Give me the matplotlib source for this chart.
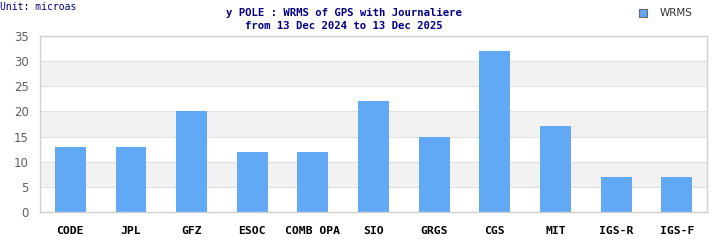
import matplotlib
matplotlib.use("Agg")
import matplotlib.pyplot as plt
from matplotlib.patches import Patch

centers = ["CODE", "JPL", "GFZ", "ESOC", "COMB OPA", "SIO", "GRGS", "CGS", "MIT", "IGS-R", "IGS-F"]
wrms = [13, 13, 20, 12, 12, 22, 15, 32, 17, 7, 7]
y_ticks = [0, 5, 10, 15, 20, 25, 30, 35]

BAR_COLOR = "#61a8f5"
TITLE_COLOR = "#000080"

fig = plt.figure(figsize=(7.15, 2.4), dpi=100)
ax = fig.add_axes([0.056, 0.117, 0.933, 0.733])

# alternating grey bands
for lo in range(5, 35, 10):
    ax.axhspan(lo, lo + 5, color="#f2f2f2", zorder=0, lw=0)
for t in y_ticks:
    ax.axhline(t, color="#e0e0e0", lw=0.8, zorder=0.5)

x = range(len(centers))
ax.bar(x, wrms, width=0.51, color=BAR_COLOR, zorder=2)

ax.set_xlim(-0.5, len(centers) - 0.5)
ax.set_ylim(0, 35)
ax.set_yticks(y_ticks)
ax.set_xticks(list(x))
ax.set_xticklabels(centers, family="DejaVu Sans Mono", fontweight="bold", fontsize=8.2)
ax.tick_params(axis="x", length=0, pad=10)
ax.tick_params(axis="y", length=0, pad=8, labelsize=8.5, labelcolor="#606060")
for s in ax.spines.values():
    s.set_color("#d0d0d0")
    s.set_linewidth(1)

fig.text(0.481, 0.945, "y POLE : WRMS of GPS with Journaliere", ha="center", va="center",
         family="DejaVu Sans Mono", fontweight="bold", fontsize=7.7, color=TITLE_COLOR)
fig.text(0.481, 0.89, "from 13 Dec 2024 to 13 Dec 2025", ha="center", va="center",
         family="DejaVu Sans Mono", fontweight="bold", fontsize=7.7, color=TITLE_COLOR)
fig.text(0.0, 0.97, "Unit: microas", ha="left", va="center",
         family="DejaVu Sans Mono", fontsize=7, color=TITLE_COLOR)

fig.legend(handles=[Patch(facecolor=BAR_COLOR, edgecolor="#666666", lw=0.8)], labels=["WRMS"],
           loc="center left", bbox_to_anchor=(0.880, 0.945), frameon=False, fontsize=7.5,
           handlelength=0.8, handleheight=0.8, handletextpad=1.2, labelcolor="#333333")

fig.savefig("out.png", dpi=100)
